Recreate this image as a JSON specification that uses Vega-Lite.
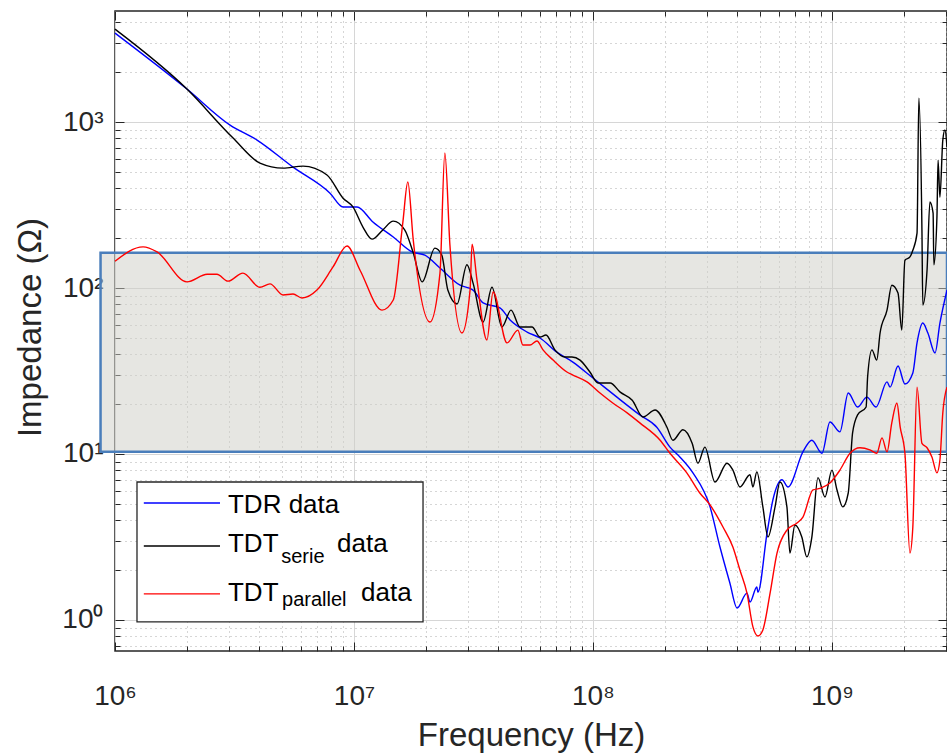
{
 "$schema": "https://vega.github.io/schema/vega-lite/v6.json",
 "width": 832, "height": 640,
 "autosize": {"type": "none"},
 "padding": {"left": 115, "top": 11, "right": 0, "bottom": 105},
 "background": "white",
 "config": {"view": {"stroke": "#262626", "strokeWidth": 1.5}, "font": "Liberation Sans"},
 "datasets": {
  "band": [{"fmin": 870000, "fmax": 3030000000, "zmin": 10.3, "zmax": 163}],
  "curves": [
   {"s":"TDR","f":1e6,"z":3436},{"s":"TDR","f":2e6,"z":1581},{"s":"TDR","f":3.03e6,"z":959},{"s":"TDR","f":3.93e6,"z":779},{"s":"TDR","f":5.56e6,"z":535},{"s":"TDR","f":7.94e6,"z":373},{"s":"TDR","f":9.0e6,"z":308},{"s":"TDR","f":1.03e7,"z":308},{"s":"TDR","f":1.2e7,"z":250},{"s":"TDR","f":1.46e7,"z":203},{"s":"TDR","f":1.75e7,"z":165},{"s":"TDR","f":1.98e7,"z":158},{"s":"TDR","f":2.29e7,"z":132},{"s":"TDR","f":2.78e7,"z":104},{"s":"TDR","f":3.15e7,"z":97.2},{"s":"TDR","f":3.47e7,"z":81.3},{"s":"TDR","f":4.08e7,"z":75.9},{"s":"TDR","f":4.5e7,"z":64.2},{"s":"TDR","f":5.3e7,"z":54.3},{"s":"TDR","f":6.0e7,"z":50},{"s":"TDR","f":7.06e7,"z":41.1},{"s":"TDR","f":8.24e7,"z":35.8},{"s":"TDR","f":1e8,"z":28.7},{"s":"TDR","f":1.26e8,"z":22},{"s":"TDR","f":1.57e8,"z":17.2},{"s":"TDR","f":1.85e8,"z":14.5},{"s":"TDR","f":2.1e8,"z":11},{"s":"TDR","f":2.31e8,"z":9.6},{"s":"TDR","f":2.62e8,"z":7.7},{"s":"TDR","f":3.09e8,"z":4.8},{"s":"TDR","f":3.4e8,"z":2.75},{"s":"TDR","f":3.74e8,"z":1.67},{"s":"TDR","f":4.01e8,"z":1.18},{"s":"TDR","f":4.41e8,"z":1.45},{"s":"TDR","f":4.54e8,"z":1.28},{"s":"TDR","f":4.85e8,"z":1.58},{"s":"TDR","f":4.9e8,"z":1.47},{"s":"TDR","f":5.35e8,"z":3.34},{"s":"TDR","f":5.66e8,"z":5.28},{"s":"TDR","f":6.18e8,"z":7.0},{"s":"TDR","f":6.55e8,"z":6.33},{"s":"TDR","f":7.56e8,"z":10.3},{"s":"TDR","f":8.24e8,"z":12.1},{"s":"TDR","f":9.08e8,"z":10.1},{"s":"TDR","f":9.81e8,"z":15.6},{"s":"TDR","f":1.08e9,"z":13.6},{"s":"TDR","f":1.17e9,"z":23.3},{"s":"TDR","f":1.28e9,"z":19.2},{"s":"TDR","f":1.4e9,"z":22},{"s":"TDR","f":1.53e9,"z":19.2},{"s":"TDR","f":1.7e9,"z":27.2},{"s":"TDR","f":1.75e9,"z":25.3},{"s":"TDR","f":1.89e9,"z":33.9},{"s":"TDR","f":2.02e9,"z":26.4},{"s":"TDR","f":2.18e9,"z":30.8},{"s":"TDR","f":2.27e9,"z":46.7},{"s":"TDR","f":2.4e9,"z":61.5},{"s":"TDR","f":2.52e9,"z":53.6},{"s":"TDR","f":2.7e9,"z":40.6},{"s":"TDR","f":2.83e9,"z":61.5},{"s":"TDR","f":3.03e9,"z":97.2},
   {"s":"serie","f":1e6,"z":3631},{"s":"serie","f":2e6,"z":1581},{"s":"serie","f":3.12e6,"z":801},{"s":"serie","f":4.04e6,"z":566},{"s":"serie","f":5.05e6,"z":528},{"s":"serie","f":6.12e6,"z":543},{"s":"serie","f":7.71e6,"z":480},{"s":"serie","f":9.0e6,"z":348},{"s":"serie","f":9.9e6,"z":308},{"s":"serie","f":1.09e7,"z":233},{"s":"serie","f":1.19e7,"z":197},{"s":"serie","f":1.32e7,"z":224},{"s":"serie","f":1.46e7,"z":253},{"s":"serie","f":1.63e7,"z":224},{"s":"serie","f":1.77e7,"z":163},{"s":"serie","f":1.93e7,"z":109},{"s":"serie","f":2.18e7,"z":174},{"s":"serie","f":2.33e7,"z":158},{"s":"serie","f":2.47e7,"z":97.2},{"s":"serie","f":2.7e7,"z":80.2},{"s":"serie","f":2.97e7,"z":138},{"s":"serie","f":3.15e7,"z":107},{"s":"serie","f":3.47e7,"z":62.4},{"s":"serie","f":3.78e7,"z":101},{"s":"serie","f":4.16e7,"z":58.2},{"s":"serie","f":4.54e7,"z":73.6},{"s":"serie","f":4.95e7,"z":58.2},{"s":"serie","f":5.56e7,"z":58.2},{"s":"serie","f":6.0e7,"z":50.7},{"s":"serie","f":6.36e7,"z":52.1},{"s":"serie","f":6.93e7,"z":42.4},{"s":"serie","f":7.64e7,"z":38.4},{"s":"serie","f":8.17e7,"z":38.4},{"s":"serie","f":8.83e7,"z":36.8},{"s":"serie","f":9.71e7,"z":31.2},{"s":"serie","f":1.05e8,"z":26.8},{"s":"serie","f":1.18e8,"z":26.8},{"s":"serie","f":1.3e8,"z":23.6},{"s":"serie","f":1.46e8,"z":21.1},{"s":"serie","f":1.62e8,"z":16.7},{"s":"serie","f":1.82e8,"z":18.4},{"s":"serie","f":2.04e8,"z":14.5},{"s":"serie","f":2.16e8,"z":12.1},{"s":"serie","f":2.38e8,"z":14.0},{"s":"serie","f":2.6e8,"z":11.6},{"s":"serie","f":2.75e8,"z":8.8},{"s":"serie","f":2.94e8,"z":11.0},{"s":"serie","f":3.24e8,"z":6.78},{"s":"serie","f":3.64e8,"z":8.8},{"s":"serie","f":3.85e8,"z":8.0},{"s":"serie","f":4.12e8,"z":6.33},{"s":"serie","f":4.54e8,"z":7.5},{"s":"serie","f":4.67e8,"z":6.33},{"s":"serie","f":4.85e8,"z":7.8},{"s":"serie","f":5.14e8,"z":4.8},{"s":"serie","f":5.4e8,"z":3.16},{"s":"serie","f":5.78e8,"z":4.8},{"s":"serie","f":6.06e8,"z":6.78},{"s":"serie","f":6.48e8,"z":4.8},{"s":"serie","f":6.67e8,"z":2.53},{"s":"serie","f":7.0e8,"z":3.73},{"s":"serie","f":7.48e8,"z":3.16},{"s":"serie","f":7.85e8,"z":2.4},{"s":"serie","f":8.24e8,"z":3.16},{"s":"serie","f":8.74e8,"z":7.2},{"s":"serie","f":9.35e8,"z":5.51},{"s":"serie","f":1.0e9,"z":8.0},{"s":"serie","f":1.05e9,"z":6.07},{"s":"serie","f":1.11e9,"z":4.8},{"s":"serie","f":1.17e9,"z":5.82},{"s":"serie","f":1.22e9,"z":13.4},{"s":"serie","f":1.28e9,"z":17.2},{"s":"serie","f":1.39e9,"z":19.2},{"s":"serie","f":1.41e9,"z":29.1},{"s":"serie","f":1.47e9,"z":42.4},{"s":"serie","f":1.54e9,"z":36.8},{"s":"serie","f":1.59e9,"z":53.6},{"s":"serie","f":1.7e9,"z":73.6},{"s":"serie","f":1.78e9,"z":104},{"s":"serie","f":1.89e9,"z":93.3},{"s":"serie","f":1.96e9,"z":55.8},{"s":"serie","f":2.02e9,"z":147},{"s":"serie","f":2.12e9,"z":154},{"s":"serie","f":2.18e9,"z":169},{"s":"serie","f":2.27e9,"z":214},{"s":"serie","f":2.31e9,"z":1395},{"s":"serie","f":2.38e9,"z":224},{"s":"serie","f":2.4e9,"z":79},{"s":"serie","f":2.5e9,"z":128},{"s":"serie","f":2.57e9,"z":330},{"s":"serie","f":2.65e9,"z":283},{"s":"serie","f":2.67e9,"z":138},{"s":"serie","f":2.75e9,"z":268},{"s":"serie","f":2.78e9,"z":590},{"s":"serie","f":2.83e9,"z":353},{"s":"serie","f":2.91e9,"z":779},{"s":"serie","f":2.97e9,"z":895},{"s":"serie","f":3.03e9,"z":707},
   {"s":"parallel","f":1e6,"z":145},{"s":"parallel","f":1.31e6,"z":177},{"s":"parallel","f":1.5e6,"z":165},{"s":"parallel","f":2.0e6,"z":109},{"s":"parallel","f":2.43e6,"z":121},{"s":"parallel","f":2.67e6,"z":121},{"s":"parallel","f":2.97e6,"z":110},{"s":"parallel","f":3.43e6,"z":123},{"s":"parallel","f":4.04e6,"z":101},{"s":"parallel","f":4.45e6,"z":106},{"s":"parallel","f":5.05e6,"z":90.8},{"s":"parallel","f":5.56e6,"z":92},{"s":"parallel","f":6.06e6,"z":87.1},{"s":"parallel","f":7.0e6,"z":97.2},{"s":"parallel","f":8.17e6,"z":134},{"s":"parallel","f":9.35e6,"z":179},{"s":"parallel","f":1.06e7,"z":128},{"s":"parallel","f":1.31e7,"z":73.6},{"s":"parallel","f":1.46e7,"z":84.7},{"s":"parallel","f":1.6e7,"z":246},{"s":"parallel","f":1.68e7,"z":435},{"s":"parallel","f":1.77e7,"z":195},{"s":"parallel","f":2.08e7,"z":62.4},{"s":"parallel","f":2.29e7,"z":123},{"s":"parallel","f":2.4e7,"z":651},{"s":"parallel","f":2.52e7,"z":182},{"s":"parallel","f":2.83e7,"z":53.6},{"s":"parallel","f":3.06e7,"z":97.2},{"s":"parallel","f":3.12e7,"z":184},{"s":"parallel","f":3.27e7,"z":112},{"s":"parallel","f":3.6e7,"z":48.6},{"s":"parallel","f":3.82e7,"z":94.6},{"s":"parallel","f":4.37e7,"z":46.7},{"s":"parallel","f":4.85e7,"z":55.8},{"s":"parallel","f":5.09e7,"z":45.4},{"s":"parallel","f":5.45e7,"z":45.4},{"s":"parallel","f":5.83e7,"z":48},{"s":"parallel","f":6.18e7,"z":42.4},{"s":"parallel","f":6.81e7,"z":36.8},{"s":"parallel","f":7.78e7,"z":31.2},{"s":"parallel","f":8.24e7,"z":29.9},{"s":"parallel","f":9.44e7,"z":27.2},{"s":"parallel","f":1.07e8,"z":23.3},{"s":"parallel","f":1.21e8,"z":20.3},{"s":"parallel","f":1.39e8,"z":17.7},{"s":"parallel","f":1.57e8,"z":15.4},{"s":"parallel","f":1.91e8,"z":12.1},{"s":"parallel","f":2.1e8,"z":10.1},{"s":"parallel","f":2.47e8,"z":7.7},{"s":"parallel","f":2.8e8,"z":5.82},{"s":"parallel","f":3.09e8,"z":4.93},{"s":"parallel","f":3.5e8,"z":3.63},{"s":"parallel","f":3.85e8,"z":2.75},{"s":"parallel","f":4.12e8,"z":2.0},{"s":"parallel","f":4.41e8,"z":1.45},{"s":"parallel","f":4.67e8,"z":0.908},{"s":"parallel","f":4.9e8,"z":0.801},{"s":"parallel","f":5.14e8,"z":0.871},{"s":"parallel","f":5.51e8,"z":1.45},{"s":"parallel","f":5.89e8,"z":2.53},{"s":"parallel","f":6.48e8,"z":3.48},{"s":"parallel","f":7.14e8,"z":3.84},{"s":"parallel","f":7.56e8,"z":4.17},{"s":"parallel","f":8.33e8,"z":6.07},{"s":"parallel","f":8.91e8,"z":6.2},{"s":"parallel","f":9.81e8,"z":6.68},{"s":"parallel","f":1.08e9,"z":8.0},{"s":"parallel","f":1.19e9,"z":10.1},{"s":"parallel","f":1.31e9,"z":10.9},{"s":"parallel","f":1.44e9,"z":10.6},{"s":"parallel","f":1.54e9,"z":10.1},{"s":"parallel","f":1.62e9,"z":12.5},{"s":"parallel","f":1.7e9,"z":10.3},{"s":"parallel","f":1.78e9,"z":15.4},{"s":"parallel","f":1.87e9,"z":20.3},{"s":"parallel","f":1.93e9,"z":14.5},{"s":"parallel","f":2.02e9,"z":10.1},{"s":"parallel","f":2.12e9,"z":2.53},{"s":"parallel","f":2.18e9,"z":3.63},{"s":"parallel","f":2.27e9,"z":25.3},{"s":"parallel","f":2.38e9,"z":11.6},{"s":"parallel","f":2.5e9,"z":10.9},{"s":"parallel","f":2.62e9,"z":9.6},{"s":"parallel","f":2.75e9,"z":7.7},{"s":"parallel","f":2.83e9,"z":9.2},{"s":"parallel","f":2.91e9,"z":17.7},{"s":"parallel","f":3.03e9,"z":25.3}
  ]
 },
 "layer": [
  {
   "data": {"name": "band"},
   "mark": {"type": "rect", "fill": "#cdcdc5", "fillOpacity": 0.5, "stroke": "#4a7ebb", "strokeWidth": 2.5},
   "encoding": {
    "x": {"field": "fmin", "type": "quantitative", "scale": {"type": "log", "domain": [1e6, 3.03e9], "nice": false},
     "axis": {"orient": "top", "values": [1e6,2e6,3e6,4e6,5e6,6e6,7e6,8e6,9e6,1e7,2e7,3e7,4e7,5e7,6e7,7e7,8e7,9e7,1e8,2e8,3e8,4e8,5e8,6e8,7e8,8e8,9e8,1e9,2e9,3e9],
      "labels": false, "grid": false, "domain": false, "title": null, "tickColor": "#262626",
      "tickSize": {"condition": {"test": "abs(log(datum.value)/LN10 - round(log(datum.value)/LN10)) < 0.001", "value": -9}, "value": -5}}},
    "x2": {"field": "fmax"},
    "y": {"field": "zmin", "type": "quantitative", "scale": {"type": "log", "domain": [0.65, 4670], "nice": false},
     "axis": {"orient": "right", "values": [0.7,0.8,0.9,1,2,3,4,5,6,7,8,9,10,20,30,40,50,60,70,80,90,100,200,300,400,500,600,700,800,900,1000,2000,3000,4000],
      "labels": false, "grid": false, "domain": false, "title": null, "tickColor": "#262626",
      "tickSize": {"condition": {"test": "abs(log(datum.value)/LN10 - round(log(datum.value)/LN10)) < 0.001", "value": -9}, "value": -5}}},
    "y2": {"field": "zmax"}
   }
  },
  {
   "data": {"name": "curves"},
   "mark": {"type": "line", "strokeWidth": 1.4, "interpolate": "monotone"},
   "encoding": {
    "x": {"field": "f", "type": "quantitative", "scale": {"type": "log", "domain": [1e6, 3.03e9], "nice": false},
     "axis": {"orient": "bottom", "title": "Frequency (Hz)",
      "values": [1e6,2e6,3e6,4e6,5e6,6e6,7e6,8e6,9e6,1e7,2e7,3e7,4e7,5e7,6e7,7e7,8e7,9e7,1e8,2e8,3e8,4e8,5e8,6e8,7e8,8e8,9e8,1e9,2e9,3e9],
      "labelExpr": "abs(log(datum.value)/LN10 - round(log(datum.value)/LN10)) < 0.001 ? '10' + (round(log(datum.value)/LN10) == 6 ? '⁶' : round(log(datum.value)/LN10) == 7 ? '⁷' : round(log(datum.value)/LN10) == 8 ? '⁸' : '⁹') : ''",
      "labelFontSize": 28, "labelColor": "#262626", "labelFlush": false, "labelOverlap": false, "labelBound": false,
      "labelPadding": 62, "labelBaseline": "alphabetic",
      "tickColor": "#262626",
      "tickSize": {"condition": {"test": "abs(log(datum.value)/LN10 - round(log(datum.value)/LN10)) < 0.001", "value": -9}, "value": -5},
      "grid": true,
      "gridColor": {"condition": {"test": "abs(log(datum.value)/LN10 - round(log(datum.value)/LN10)) < 0.001", "value": "#d6d6d6"}, "value": "#acacac"},
      "gridDash": {"condition": {"test": "abs(log(datum.value)/LN10 - round(log(datum.value)/LN10)) < 0.001", "value": []}, "value": [1, 4]},
      "domain": false,
      "titleFontSize": 33, "titleFontWeight": "normal", "titleColor": "#262626", "titleY": 94, "titleBaseline": "alphabetic"}},
    "y": {"field": "z", "type": "quantitative", "scale": {"type": "log", "domain": [0.65, 4670], "nice": false},
     "axis": {"orient": "left", "title": "Impedance (Ω)",
      "values": [0.7,0.8,0.9,1,2,3,4,5,6,7,8,9,10,20,30,40,50,60,70,80,90,100,200,300,400,500,600,700,800,900,1000,2000,3000,4000],
      "labelExpr": "abs(log(datum.value)/LN10 - round(log(datum.value)/LN10)) < 0.001 ? '10' + (round(log(datum.value)/LN10) == 0 ? '⁰' : round(log(datum.value)/LN10) == 1 ? '¹' : round(log(datum.value)/LN10) == 2 ? '²' : '³') : ''",
      "labelFontSize": 28, "labelColor": "#262626", "labelFlush": false, "labelOverlap": false, "labelBound": false,
      "labelPadding": 21, "labelBaseline": "middle", "labelAlign": "right",
      "tickColor": "#262626",
      "tickSize": {"condition": {"test": "abs(log(datum.value)/LN10 - round(log(datum.value)/LN10)) < 0.001", "value": -9}, "value": -5},
      "grid": true,
      "gridColor": {"condition": {"test": "abs(log(datum.value)/LN10 - round(log(datum.value)/LN10)) < 0.001", "value": "#d6d6d6"}, "value": "#acacac"},
      "gridDash": {"condition": {"test": "abs(log(datum.value)/LN10 - round(log(datum.value)/LN10)) < 0.001", "value": []}, "value": [1, 4]},
      "domain": false,
      "titleFontSize": 33, "titleFontWeight": "normal", "titleColor": "#262626", "titleX": -85, "titleY": 316, "titleAngle": -90, "titleAlign": "center", "titleBaseline": "middle"}},
    "color": {"field": "s", "type": "nominal", "scale": {"domain": ["TDR", "serie", "parallel"], "range": ["#0000ff", "#000000", "#ff0000"]}, "legend": null}
   }
  },
  {
   "data": {"values": [{}]},
   "mark": {"type": "rect", "fill": "white", "stroke": "#262626", "strokeWidth": 1.3},
   "encoding": {
    "x": {"datum": 1236000, "type": "quantitative", "scale": {"type": "log", "domain": [1e6, 3.03e9], "nice": false}, "axis": null},
    "x2": {"datum": 19450000},
    "y": {"datum": 0.973, "type": "quantitative", "scale": {"type": "log", "domain": [0.65, 4670], "nice": false}, "axis": null},
    "y2": {"datum": 6.78}
   }
  },
  {
   "data": {"values": [{}]},
   "mark": {"type": "rule", "color": "#0000ff", "strokeWidth": 1.4},
   "encoding": {
    "x": {"datum": 1320000, "type": "quantitative", "scale": {"type": "log", "domain": [1e6, 3.03e9], "nice": false}, "axis": null},
    "x2": {"datum": 2750000},
    "y": {"datum": 5.07, "type": "quantitative", "scale": {"type": "log", "domain": [0.65, 4670], "nice": false}, "axis": null}
   }
  },
  {
   "data": {"values": [{}]},
   "mark": {"type": "rule", "color": "#000000", "strokeWidth": 1.4},
   "encoding": {
    "x": {"datum": 1320000, "type": "quantitative", "scale": {"type": "log", "domain": [1e6, 3.03e9], "nice": false}, "axis": null},
    "x2": {"datum": 2750000},
    "y": {"datum": 2.79, "type": "quantitative", "scale": {"type": "log", "domain": [0.65, 4670], "nice": false}, "axis": null}
   }
  },
  {
   "data": {"values": [{}]},
   "mark": {"type": "rule", "color": "#ff0000", "strokeWidth": 1.4},
   "encoding": {
    "x": {"datum": 1320000, "type": "quantitative", "scale": {"type": "log", "domain": [1e6, 3.03e9], "nice": false}, "axis": null},
    "x2": {"datum": 2750000},
    "y": {"datum": 1.435, "type": "quantitative", "scale": {"type": "log", "domain": [0.65, 4670], "nice": false}, "axis": null}
   }
  },
  {
   "data": {"values": [{}]},
   "mark": {"type": "text", "text": "TDR data", "align": "left", "baseline": "alphabetic", "fontSize": 26, "color": "#000000"},
   "encoding": {
    "x": {"datum": 2970000, "type": "quantitative", "scale": {"type": "log", "domain": [1e6, 3.03e9], "nice": false}, "axis": null},
    "y": {"datum": 4.42, "type": "quantitative", "scale": {"type": "log", "domain": [0.65, 4670], "nice": false}, "axis": null}
   }
  },
  {
   "data": {"values": [{}]},
   "mark": {"type": "text", "text": "TDT", "align": "left", "baseline": "alphabetic", "fontSize": 26, "color": "#000000"},
   "encoding": {
    "x": {"datum": 2970000, "type": "quantitative", "scale": {"type": "log", "domain": [1e6, 3.03e9], "nice": false}, "axis": null},
    "y": {"datum": 2.57, "type": "quantitative", "scale": {"type": "log", "domain": [0.65, 4670], "nice": false}, "axis": null}
   }
  },
  {
   "data": {"values": [{}]},
   "mark": {"type": "text", "text": "serie", "align": "left", "baseline": "alphabetic", "fontSize": 20, "color": "#000000"},
   "encoding": {
    "x": {"datum": 4960000, "type": "quantitative", "scale": {"type": "log", "domain": [1e6, 3.03e9], "nice": false}, "axis": null},
    "y": {"datum": 2.2, "type": "quantitative", "scale": {"type": "log", "domain": [0.65, 4670], "nice": false}, "axis": null}
   }
  },
  {
   "data": {"values": [{}]},
   "mark": {"type": "text", "text": "data", "align": "left", "baseline": "alphabetic", "fontSize": 26, "color": "#000000"},
   "encoding": {
    "x": {"datum": 8490000, "type": "quantitative", "scale": {"type": "log", "domain": [1e6, 3.03e9], "nice": false}, "axis": null},
    "y": {"datum": 2.57, "type": "quantitative", "scale": {"type": "log", "domain": [0.65, 4670], "nice": false}, "axis": null}
   }
  },
  {
   "data": {"values": [{}]},
   "mark": {"type": "text", "text": "TDT", "align": "left", "baseline": "alphabetic", "fontSize": 26, "color": "#000000"},
   "encoding": {
    "x": {"datum": 2970000, "type": "quantitative", "scale": {"type": "log", "domain": [1e6, 3.03e9], "nice": false}, "axis": null},
    "y": {"datum": 1.3, "type": "quantitative", "scale": {"type": "log", "domain": [0.65, 4670], "nice": false}, "axis": null}
   }
  },
  {
   "data": {"values": [{}]},
   "mark": {"type": "text", "text": "parallel", "align": "left", "baseline": "alphabetic", "fontSize": 20, "color": "#000000"},
   "encoding": {
    "x": {"datum": 5000000, "type": "quantitative", "scale": {"type": "log", "domain": [1e6, 3.03e9], "nice": false}, "axis": null},
    "y": {"datum": 1.21, "type": "quantitative", "scale": {"type": "log", "domain": [0.65, 4670], "nice": false}, "axis": null}
   }
  },
  {
   "data": {"values": [{}]},
   "mark": {"type": "text", "text": "data", "align": "left", "baseline": "alphabetic", "fontSize": 26, "color": "#000000"},
   "encoding": {
    "x": {"datum": 10700000, "type": "quantitative", "scale": {"type": "log", "domain": [1e6, 3.03e9], "nice": false}, "axis": null},
    "y": {"datum": 1.3, "type": "quantitative", "scale": {"type": "log", "domain": [0.65, 4670], "nice": false}, "axis": null}
   }
  }
 ],
 "resolve": {"axis": {"x": "independent", "y": "independent"}}
}
